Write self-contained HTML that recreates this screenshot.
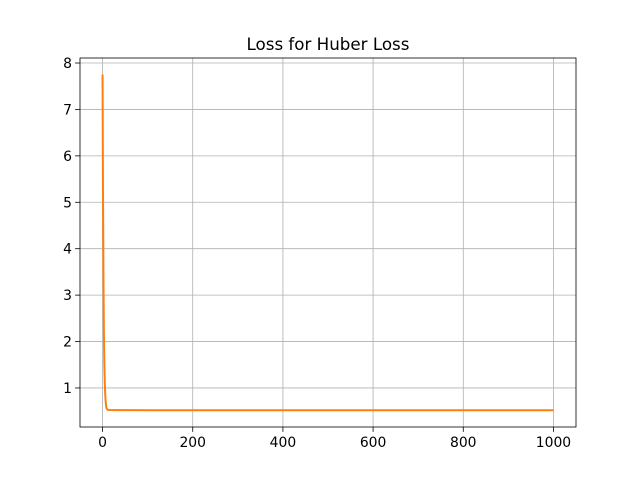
<!DOCTYPE html>
<html><head><meta charset="utf-8"><style>
body{margin:0;background:#fff;font-family:"Liberation Sans","DejaVu Sans",sans-serif}
svg text{font-family:"DejaVu Sans","Liberation Sans",sans-serif;font-size:13.9px;fill:#000}
</style></head><body>
<svg id="chart" width="640" height="480">
<rect width="640" height="480" fill="#fff"/>
<text x="328" y="50" text-anchor="middle" style="font-size:16.7px">Loss for Huber Loss</text>
<g id="grid"></g><g id="series"></g><g id="axes"></g>
</svg>
<script>
const epochs=[0,1,2,3,4,5,6,7,8,9,10,12,15,30,100,1000];
const losses=[7.75,5.2,3.4,2.2,1.5,1.1,0.85,0.7,0.6,0.56,0.54,0.53,0.525,0.522,0.52,0.52];
const xTicks=[0,200,400,600,800,1000];
const yTicks=[1,2,3,4,5,6,7,8];
const L=80,R=576,T=58,B=427,x0=-50,x1=1050,y0=0.159,y1=8.108;
const X=v=>L+(v-x0)/(x1-x0)*(R-L);
const Y=v=>B-(v-y0)/(y1-y0)*(B-T);
const ns='http://www.w3.org/2000/svg';
function mk(t,a,p){const e=document.createElementNS(ns,t);for(const k in a)e.setAttribute(k,a[k]);p.appendChild(e);return e;}
const g=document.getElementById('grid'),s=document.getElementById('series'),ax=document.getElementById('axes');
xTicks.forEach(v=>{const x=X(v);
const gl=mk('line',{x1:x,x2:x,y1:T,y2:B,stroke:'#b0b0b0','stroke-width':0.8},g);

const tk=mk('line',{x1:x,x2:x,y1:B,y2:B+4.9,stroke:'#000','stroke-width':0.8},ax);

const t=mk('text',{x:x,y:B+20,'text-anchor':'middle'},ax);t.textContent=v;
});
yTicks.forEach(v=>{const y=Y(v);
const gl=mk('line',{x1:L,x2:R,y1:y,y2:y,stroke:'#b0b0b0','stroke-width':0.8},g);

const tk=mk('line',{x1:L-4.9,x2:L,y1:y,y2:y,stroke:'#000','stroke-width':0.8},ax);

const t=mk('text',{x:L-8,y:y+5,'text-anchor':'end'},ax);t.textContent=v;
});
const pl=mk('polyline',{points:epochs.map((e,i)=>X(e)+','+Y(losses[i])).join(' '),fill:'none',stroke:'#ff7f0e','stroke-width':2},s);

const fr=mk('rect',{x:L,y:T,width:R-L,height:B-T,fill:'none',stroke:'#000','stroke-width':0.8},ax);

</script>
</body></html>
